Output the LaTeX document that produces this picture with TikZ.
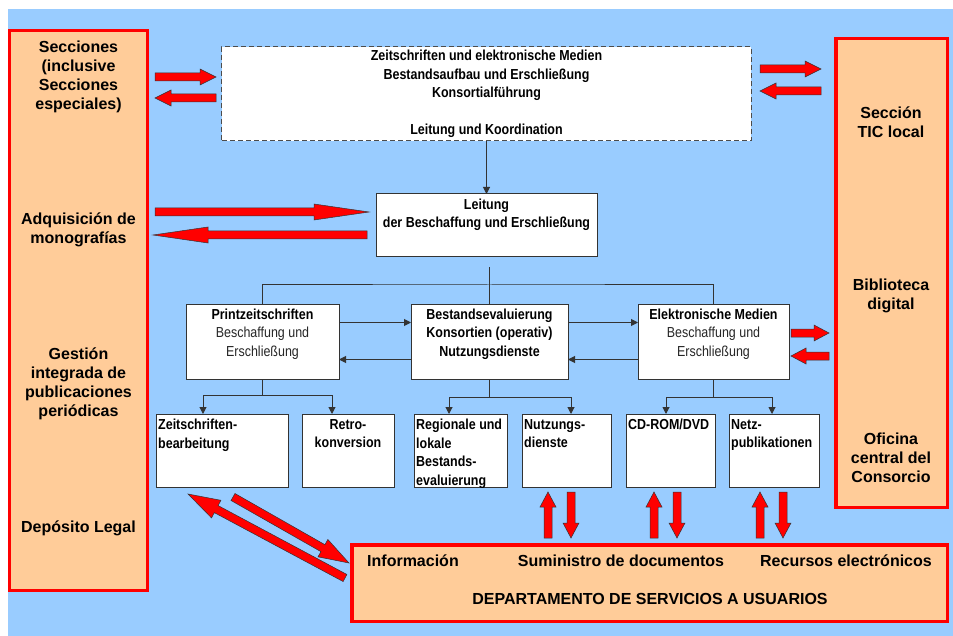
\documentclass[tikz,border=0pt]{standalone}
\usepackage{fontspec}
\setmainfont{Liberation Sans}
\newfontfamily\narrowfont[FakeStretch=0.86]{Liberation Sans}
\usetikzlibrary{calc,arrows.meta}
\definecolor{bgblue}{RGB}{153,204,255}
\definecolor{peach}{RGB}{255,204,153}
\definecolor{linegray}{RGB}{51,51,51}
\begin{document}
\begin{tikzpicture}[x=1bp,y=-1bp]

      \tikzset{wbox/.style={draw=linegray, line width=1bp, fill=white, inner sep=0pt, outer sep=0pt},
               obox/.style={draw=red, line width=3.5bp, fill=peach, inner sep=0pt, outer sep=0pt},
               otext/.style={font=\bfseries\fontsize{16bp}{19bp}\selectfont, align=center, inner sep=0pt},
               ntext/.style={font=\narrowfont\bfseries\fontsize{14.5bp}{18.5bp}\selectfont, inner sep=2bp},
               stext/.style={ntext, anchor=north west, align=left, yshift=-3bp},
               ctext/.style={ntext, anchor=north, align=center, yshift=-2.5bp},
               conn/.style={draw=linegray, line width=1bp},
               arr/.style={conn, -{Triangle[length=7bp,width=7bp]}},
               redarrow/.style 2 args={draw=black!80, line width=0.5bp, fill=red, to path={
                 ($(\tikztostart)!4bp!90:(\tikztotarget)$)
                 -- ($($(\tikztotarget)!#1!(\tikztostart)$)!4bp!90:(\tikztotarget)$)
                 -- ($($(\tikztotarget)!#1!(\tikztostart)$)!#2!90:(\tikztotarget)$)
                 -- (\tikztotarget)
                 -- ($($(\tikztotarget)!#1!(\tikztostart)$)!#2!-90:(\tikztotarget)$)
                 -- ($($(\tikztotarget)!#1!(\tikztostart)$)!4bp!-90:(\tikztotarget)$)
                 -- ($(\tikztostart)!4bp!-90:(\tikztotarget)$) -- cycle}}}

      \useasboundingbox (0,0) rectangle (953,636);
      \fill[bgblue] (8,9) rectangle (953,636);

% Boxes
	%Sektionen
      	\node[obox, minimum width=137.5bp, minimum height=559.5bp] (left) at (78.5,310.5) {};
      	\node[obox, minimum width=111.5bp, minimum height=468.5bp] (right) at (891.5,273) {};
      	\node[obox, minimum width=595.5bp, minimum height=76.5bp] (bottom) at (649.5,583) {};
      	\node[otext] (secc) at (78.5,76.5) {Secciones\\(inclusive\\Secciones\\especiales)};
      	\node[otext] (adq) at (78.5,229.5) {Adquisición de\\monografías};
      	\node[otext] (gest) at (78.5,384) {Gestión\\integrada de\\publicaciones\\periódicas};
      	\node[otext] (depo) at (78.5,528) {Depósito Legal};
      	\node[otext] (tic) at (891,122) {Sección\\TIC local};
      	\node[otext] (bib) at (891,295.5) {Biblioteca\\digital};
      	\node[otext] (ofi) at (891,457.5) {Oficina\\central del\\Consorcio};
      	\node[otext] (info) at (413,561) {Información};
      	\node[otext] (sumi) at (621,561) {Suministro de documentos};
      	\node[otext] (recu) at (846,561) {Recursos electrónicos};
      	\node[otext] (dsu) at (650,599) {DEPARTAMENTO DE SERVICIOS A USUARIOS};
	%Leitung
      	\node[wbox, draw=black!70, dash pattern=on 5bp off 3bp, minimum width=529bp, minimum height=94bp,
      	      ntext, inner sep=0pt, align=center] (top) at (486.5,94)
      	      {Zeitschriften und elektronische Medien\\Bestandsaufbau und Erschließung\\Konsortialführung\\[18.5bp]Leitung und Koordination};
      	\node[wbox, minimum width=221bp, minimum height=62bp] (leit) at (486.5,225) {};
      	\node[ctext] (leitt) at (leit.north) {Leitung\\der Beschaffung und Erschließung};
	%Abteilungen
      	\node[wbox, minimum width=153bp, minimum height=75bp] (print) at (262.5,341.5) {};
      	\node[wbox, minimum width=157bp, minimum height=75bp] (best) at (489.5,341.5) {};
      	\node[wbox, minimum width=151bp, minimum height=75bp] (elek) at (713.5,341.5) {};
      	\node[ctext] (printt) at (print.north)
      	      {Printzeitschriften\\\mdseries\color{black!85}Beschaffung und\\\mdseries\color{black!85}Erschließung};
      	\node[ctext] (bestt) at (best.north)
      	      {Bestandsevaluierung\\Konsortien (operativ)\\Nutzungsdienste};
      	\node[ctext] (elekt) at (elek.north)
      	      {Elektronische Medien\\\mdseries\color{black!85}Beschaffung und\\\mdseries\color{black!85}Erschließung};
	%Referate
      	\node[wbox, minimum width=132bp, minimum height=73bp] (zsb) at (222,450.5) {};
      	\node[wbox, minimum width=92bp, minimum height=73bp] (retro) at (348,450.5) {};
      	\node[wbox, minimum width=93bp, minimum height=73bp] (regio) at (460.5,450.5) {};
      	\node[wbox, minimum width=89bp, minimum height=73bp] (nutz) at (566.5,450.5) {};
      	\node[wbox, minimum width=89bp, minimum height=73bp] (cdrom) at (670.5,450.5) {};
      	\node[wbox, minimum width=90bp, minimum height=73bp] (netz) at (774,450.5) {};
      	\node[stext] (zsbt) at (zsb.north west) {Zeitschriften-\\bearbeitung};
      	\node[ctext, yshift=-0.5bp] (retrot) at (retro.north) {Retro-\\konversion};
      	\node[stext] (regiot) at (regio.north west) {Regionale und\\lokale\\Bestands-\\evaluierung};
      	\node[stext] (nutzt) at (nutz.north west) {Nutzungs-\\dienste};
      	\node[stext] (cdromt) at (cdrom.north west) {CD-ROM/DVD};
      	\node[stext] (netzt) at (netz.north west) {Netz-\\publikationen};

%Edges
	%Organigramm
		\draw[arr] (top.south) -- (leit.north);
		\draw[conn] (best.north) -- ++(0,-19) coordinate (bus) -- ++(0,-18);
		\draw[conn] (print.north) |- (bus) -| (elek.north);
		\draw[arr] ([yshift=19bp]print.east) -- ([yshift=19bp]best.west);
		\draw[arr] ([yshift=-18bp]best.west) -- ([yshift=-18bp]print.east);
		\draw[arr] ([yshift=19bp]best.east) -- ([yshift=19bp]elek.west);
		\draw[arr] ([yshift=-18bp]elek.west) -- ([yshift=-18bp]best.east);
		\draw[conn] (print.south) -- ++(0,16) coordinate (pbus);
		\draw[arr] (pbus) -| ([xshift=-19bp]zsb.north);
		\draw[arr] (pbus) -| ([xshift=-16bp]retro.north);
		\draw[conn] (best.south) -- ++(0,18) coordinate (bbus);
		\draw[arr] (bbus) -| ([xshift=-11.5bp]regio.north);
		\draw[arr] (bbus) -| ([xshift=4.5bp]nutz.north);
		\draw[conn] (elek.south) -- ++(0,18) coordinate (ebus);
		\draw[arr] (ebus) -| ([xshift=-4.5bp]cdrom.north);
		\draw[arr] (ebus) -| ([xshift=-2bp]netz.north);
	%Rote Pfeile
		\coordinate (sa1) at (155,77);  \coordinate (sa2) at (216,77);
		\coordinate (sb1) at (216,98);  \coordinate (sb2) at (155,98);
		\coordinate (ta1) at (760,69);  \coordinate (ta2) at (821,69);
		\coordinate (tb1) at (821,91);  \coordinate (tb2) at (760,91);
		\coordinate (ma1) at (155,212); \coordinate (ma2) at (369,212);
		\coordinate (mb1) at (367,235); \coordinate (mb2) at (153,235);
		\coordinate (ea1) at (791,333); \coordinate (ea2) at (829,333);
		\coordinate (eb1) at (829,356); \coordinate (eb2) at (791,356);
		\coordinate (da1) at (345,578); \coordinate (da2) at (188,494);
		\coordinate (db1) at (233,497); \coordinate (db2) at (349,563);
		\path (sa1) edge[redarrow={16bp}{8bp}] (sa2);
		\path (sb1) edge[redarrow={16bp}{8bp}] (sb2);
		\path (ta1) edge[redarrow={16bp}{8bp}] (ta2);
		\path (tb1) edge[redarrow={16bp}{8bp}] (tb2);
		\path (ma1) edge[redarrow={55bp}{8bp}] (ma2);
		\path (mb1) edge[redarrow={55bp}{8bp}] (mb2);
		\path (ea1) edge[redarrow={15bp}{8bp}] (ea2);
		\path (eb1) edge[redarrow={15bp}{8bp}] (eb2);
		\path (da1) edge[redarrow={32bp}{10bp}] (da2);
		\path (db1) edge[redarrow={30bp}{10bp}] (db2);
		\foreach \x/\n in {548/a,654/b,760/c}{
		  \coordinate (u\n1) at (\x,538); \coordinate (u\n2) at (\x,492);
		  \coordinate (d\n1) at (\x+23,492); \coordinate (d\n2) at (\x+23,538);
		  \path (u\n1) edge[redarrow={15bp}{8bp}] (u\n2);
		  \path (d\n1) edge[redarrow={15bp}{8bp}] (d\n2);
		}

	\end{tikzpicture}
\end{document}
